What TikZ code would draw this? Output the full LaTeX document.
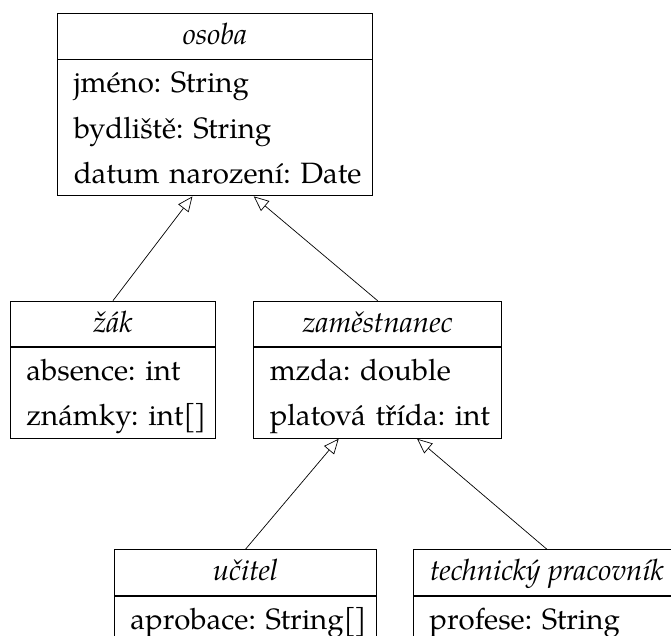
\documentclass[tikz,border=0pt]{standalone}
\usepackage{fontspec}
\setmainfont{TeX Gyre Pagella}
\usetikzlibrary{arrows.meta}
\frenchspacing

% class font and struts fixing the row pitch of every compartment
\newcommand{\classfont}{\fontsize{29.4pt}{45.33pt}\selectfont}
\newcommand{\hdstrut}{\rule[-14.6pt]{0pt}{45.6pt}}
\newcommand{\rwstrut}{\rule[-12.33pt]{0pt}{45.33pt}}
\newcommand{\attr}[1]{\mbox{\rwstrut #1}}
% tight pair of brackets for array types
\newcommand{\arr}{[\kern-2.5pt]}

\tikzset{
  classhead/.style={draw, line width=0.9pt, anchor=north west,
    minimum width=#1, inner xsep=0pt, inner ysep=0pt,
    font=\classfont\itshape},
  classbody/.style={draw, line width=0.9pt, anchor=north,
    text width=#1, inner xsep=16pt, inner ysep=0pt,
    align=left, font=\classfont},
  inherit/.style={line width=0.7pt,
    -{Triangle[open, length=15pt, width=13pt, line width=0.7pt]}},
}

\begin{document}
\begin{tikzpicture}[x=1pt, y=-1pt]
  \useasboundingbox (0,0) rectangle (671,636);
  \clip (0,0) rectangle (671,636);

  % osoba
  \node[classhead=314.4pt] (osoba) at (57.3,13) {\hdstrut osoba};
  \node[classbody=282.4pt] (osobaB) at (osoba.south)
    {\attr{jméno: String}\\
     \attr{bydliště: String}\\
     \attr{datum narození: Date}};

  % žák
  \node[classhead=205pt] (zak) at (10,300.7) {\hdstrut žák};
  \node[classbody=173pt] (zakB) at (zak.south)
    {\attr{absence: int}\\
     \attr{známky: int\arr}};

  % zaměstnanec
  \node[classhead=247.7pt] (zam) at (253.3,300.7) {\hdstrut zaměstnanec};
  \node[classbody=215.7pt] (zamB) at (zam.south)
    {\attr{mzda: double}\\
     \attr{platová třída: int}};

  % učitel
  \node[classhead=262pt] (ucitel) at (114,549.3) {\hdstrut učitel};
  \node[classbody=230pt] (ucitelB) at (ucitel.south)
    {\attr{aprobace: String\arr}};

  % technický pracovník
  \node[classhead=267pt] (tech) at (413,549.3) {\hdstrut technický pracovník};
  \node[classbody=235pt] (techB) at (tech.south)
    {\attr{profese: String}};

  % generalisations
  \draw[inherit] (zak.north) -- ([xshift=-22.5pt]osobaB.south);
  \draw[inherit] (zam.north) -- ([xshift=38.8pt]osobaB.south);
  \draw[inherit] (ucitel.north) -- ([xshift=-38.9pt]zamB.south);
  \draw[inherit] (tech.north) -- ([xshift=39.5pt]zamB.south);
\end{tikzpicture}
\end{document}
